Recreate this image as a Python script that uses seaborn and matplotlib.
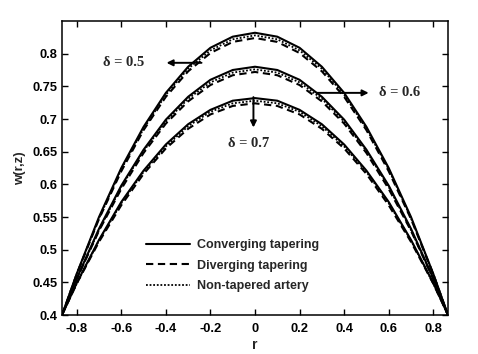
import numpy as np
import pandas as pd
import matplotlib
matplotlib.use("Agg")
import matplotlib.pyplot as plt
import seaborn as sns

# radial positions
r = [-0.866, -0.8, -0.7, -0.6, -0.5, -0.4, -0.3, -0.2, -0.1, 0.0,
     0.1, 0.2, 0.3, 0.4, 0.5, 0.6, 0.7, 0.8, 0.866]

# delta = 0.5
conv_05 = [0.400, 0.463, 0.550, 0.625, 0.688, 0.740, 0.780, 0.809, 0.826, 0.832,
           0.826, 0.809, 0.780, 0.740, 0.688, 0.625, 0.550, 0.463, 0.400]
non_05 = [0.400, 0.463, 0.548, 0.623, 0.685, 0.737, 0.777, 0.805, 0.822, 0.828,
          0.822, 0.805, 0.777, 0.737, 0.685, 0.623, 0.548, 0.463, 0.400]
div_05 = [0.400, 0.462, 0.547, 0.620, 0.683, 0.734, 0.773, 0.801, 0.818, 0.824,
          0.818, 0.801, 0.773, 0.734, 0.683, 0.620, 0.547, 0.462, 0.400]
# delta = 0.6
conv_06 = [0.400, 0.456, 0.532, 0.598, 0.653, 0.699, 0.734, 0.760, 0.775, 0.780,
           0.775, 0.760, 0.734, 0.699, 0.653, 0.598, 0.532, 0.456, 0.400]
non_06 = [0.400, 0.455, 0.530, 0.596, 0.651, 0.696, 0.731, 0.756, 0.771, 0.776,
          0.771, 0.756, 0.731, 0.696, 0.651, 0.596, 0.530, 0.455, 0.400]
div_06 = [0.400, 0.455, 0.529, 0.593, 0.648, 0.693, 0.727, 0.752, 0.767, 0.772,
          0.767, 0.752, 0.727, 0.693, 0.648, 0.593, 0.529, 0.455, 0.400]
# delta = 0.7
conv_07 = [0.400, 0.449, 0.515, 0.573, 0.621, 0.661, 0.692, 0.714, 0.728, 0.732,
           0.728, 0.714, 0.692, 0.661, 0.621, 0.573, 0.515, 0.449, 0.400]
non_07 = [0.400, 0.448, 0.514, 0.571, 0.619, 0.658, 0.689, 0.711, 0.724, 0.728,
          0.724, 0.711, 0.689, 0.658, 0.619, 0.571, 0.514, 0.448, 0.400]
div_07 = [0.400, 0.448, 0.512, 0.568, 0.616, 0.655, 0.685, 0.707, 0.720, 0.724,
          0.720, 0.707, 0.685, 0.655, 0.616, 0.568, 0.512, 0.448, 0.400]

legend_labels = ["Converging tapering", "Diverging tapering", "Non-tapered artery"]
x_ticks = [-0.8, -0.6, -0.4, -0.2, 0, 0.2, 0.4, 0.6, 0.8]
y_ticks = [0.4, 0.45, 0.5, 0.55, 0.6, 0.65, 0.7, 0.75, 0.8]

sns.set_style("ticks")
plt.rcParams["font.family"] = ["Liberation Sans", "DejaVu Sans"]
plt.rcParams["font.weight"] = "bold"

fig = plt.figure(figsize=(4.78, 3.54), dpi=100)
ax = fig.add_axes([62 / 478, 1 - 315 / 354, (448 - 62) / 478, (315 - 21) / 354])

styles = {
    "Converging tapering": dict(linestyle="-", lw=1.5),
    "Diverging tapering": dict(linestyle=(0, (3.5, 2.2)), lw=1.5),
    "Non-tapered artery": dict(linestyle=(0, (1, 1)), lw=1.3),
}

groups = [
    (conv_05, div_05, non_05),
    (conv_06, div_06, non_06),
    (conv_07, div_07, non_07),
]
for gi, (c, d, n) in enumerate(groups):
    for lab, vals in zip(legend_labels, (c, d, n)):
        df = pd.DataFrame({"r": r, "w": vals})
        sns.lineplot(data=df, x="r", y="w", ax=ax, color="black",
                     estimator=None, sort=False,
                     label=lab if gi == 0 else None, **styles[lab])

ax.set_xlim(-0.866, 0.866)
ax.set_ylim(0.4, 0.85)
ax.set_xticks(x_ticks)
ax.set_xticklabels([f"{v:g}" for v in x_ticks])
ax.set_yticks(y_ticks)
ax.set_yticklabels([f"{v:g}" for v in y_ticks])
ax.tick_params(axis="both", direction="in", length=4, width=1, top=True, right=True,
               labelsize=9.3, colors="black")
ax.tick_params(axis="x", pad=6)
ax.tick_params(axis="y", pad=3)
for lbl in ax.get_xticklabels() + ax.get_yticklabels():
    lbl.set_fontweight("bold")
for sp in ax.spines.values():
    sp.set_linewidth(1.1)
    sp.set_color("black")

ax.set_xlabel("r", fontsize=10, fontweight="bold", labelpad=2)
ax.set_ylabel("w(r,z)", fontsize=9.5, fontweight="bold", labelpad=5)

serif = dict(family=["Liberation Serif", "DejaVu Serif"], fontsize=10.5, fontweight="bold")
arrow = dict(arrowstyle="-|>", color="black", lw=1.4, mutation_scale=9, shrinkA=0, shrinkB=0)
ax.annotate("", xy=(-0.397, 0.786), xytext=(-0.240, 0.786), arrowprops=arrow)
ax.text(-0.59, 0.786, "δ = 0.5", ha="center", va="center", **serif)
ax.annotate("", xy=(0.51, 0.740), xytext=(0.278, 0.740), arrowprops=arrow)
ax.text(0.648, 0.740, "δ = 0.6", ha="center", va="center", **serif)
ax.annotate("", xy=(-0.007, 0.687), xytext=(-0.007, 0.7335), arrowprops=arrow)
ax.text(-0.029, 0.662, "δ = 0.7", ha="center", va="center", **serif)

leg = ax.legend(loc="upper left", bbox_to_anchor=(146 / 478, 1 - 239 / 354),
                bbox_transform=fig.transFigure, frameon=False, fontsize=9,
                handlelength=3.5, handletextpad=0.55, labelspacing=0.68,
                borderpad=0, borderaxespad=0)
for t in leg.get_texts():
    t.set_fontweight("bold")

fig.savefig("out.png", dpi=100)
